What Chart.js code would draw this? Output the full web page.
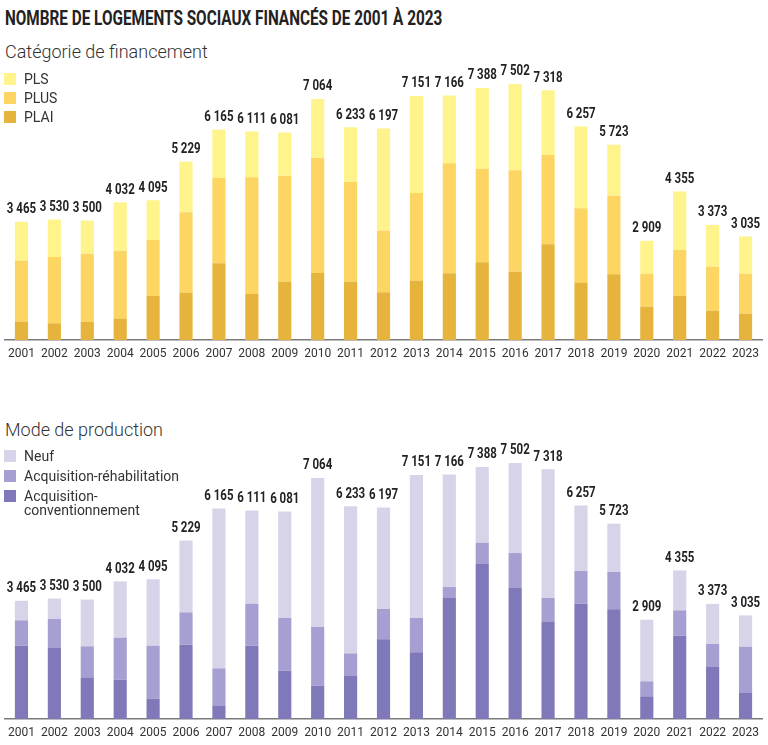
<!DOCTYPE html>
<html lang="fr">
<head>
<meta charset="utf-8">
<script src="https://cdn.jsdelivr.net/npm/chart.js@4.4.1/dist/chart.umd.min.js"></script>
<style>
  body { margin: 0; background: #fff; font-family: Roboto, sans-serif; color: #333; }
  #page { position: relative; width: 768px; height: 745px; overflow: hidden; }
  #title { position: absolute; left: 5px; top: 5px; font: bold 20px Roboto, sans-serif; color: #222;
           white-space: nowrap; transform-origin: 0 0; line-height: 26px; }
  .subtitle { position: absolute; left: 5px; font: 300 18px Roboto, sans-serif; color: #333; white-space: nowrap; line-height: 20px; }
  .legend { position: absolute; left: 4px; top: 0; width: 300px; font: 14px Roboto, sans-serif; color: #333; }
  .legend .sw { position: absolute; left: 0; width: 12px; height: 12px; }
  .legend .txt { position: absolute; left: 20px; line-height: 14px; white-space: nowrap; }
  canvas { position: absolute; left: 0; }
</style>
</head>
<body>
<div id="page">
  <div id="title">NOMBRE DE LOGEMENTS SOCIAUX FINANCÉS DE 2001 À 2023</div>
  <div class="subtitle" style="top:42px">Catégorie de financement</div>
  <canvas id="chart1" width="768" height="310" style="top:60px"></canvas>
  <div class="legend" id="legend1"></div>

  <div class="subtitle" style="top:420px">Mode de production</div>
  <canvas id="chart2" width="768" height="305" style="top:440px"></canvas>
  <div class="legend" id="legend2"></div>
</div>
<script>
const years = ['2001','2002','2003','2004','2005','2006','2007','2008','2009','2010','2011','2012',
               '2013','2014','2015','2016','2017','2018','2019','2020','2021','2022','2023'];
const totals = [3465, 3530, 3500, 4032, 4095, 5229, 6165, 6111, 6081, 7064, 6233, 6197,
                7151, 7166, 7388, 7502, 7318, 6257, 5723, 2909, 4355, 3373, 3035];

// Catégorie de financement
const plai = [540, 490, 537, 625, 1290, 1386, 2247, 1348, 1708, 1963, 1708, 1398,
              1738, 1953, 2275, 2002, 2803, 1680, 1924, 976, 1289, 859, 771];
const plus = [1784, 1942, 1993, 1992, 1640, 2355, 2499, 3419, 3107, 3380, 2931, 1805,
              2569, 3223, 2745, 2969, 2617, 2178, 2305, 967, 1348, 1289, 1172];
const pls  = [1141, 1098, 970, 1415, 1165, 1488, 1419, 1344, 1266, 1721, 1594, 2994,
              2844, 1990, 2368, 2531, 1898, 2399, 1494, 966, 1718, 1225, 1092];

// Mode de production
const acqConv = [2148, 2080, 1221, 1152, 596, 2178, 381, 2148, 1416, 977, 1260, 2334,
                 1953, 3545, 4541, 3838, 2842, 3379, 3213, 664, 2441, 1524, 762];
const acqRehab = [743, 850, 909, 1231, 1552, 947, 1103, 1231, 1543, 1719, 664, 889,
                  1006, 322, 625, 1025, 703, 957, 1094, 440, 743, 673, 1357];
const neuf = [574, 600, 1370, 1649, 1947, 2104, 4681, 2732, 3122, 4368, 4309, 2974,
              4192, 3299, 2222, 2639, 3773, 1921, 1416, 1805, 1171, 1176, 916];

const COL = {
  plai: '#E6B33C', plus: '#FCD562', pls: '#FFF38C',
  conv: '#7F79BA', rehab: '#A5A0D1', neuf: '#D7D4EA'
};

// fit the title to the width it has in the reference
const title = document.getElementById('title');
title.style.transform = 'scaleX(' + (437 / title.scrollWidth) + ')';

function fmt(n) {
  return String(n).replace(/\B(?=(\d{3})+(?!\d))/g, ' ');
}

function buildLegend(id, items) {
  const box = document.getElementById(id);
  items.forEach(it => {
    const sw = document.createElement('div');
    sw.className = 'sw';
    sw.style.background = it.color;
    sw.style.top = (it.y - 6) + 'px';
    box.appendChild(sw);
    const t = document.createElement('div');
    t.className = 'txt';
    t.style.top = (it.y - 7) + 'px';
    t.innerHTML = it.label;
    box.appendChild(t);
  });
}

buildLegend('legend1', [
  { label: 'PLS', color: COL.pls, y: 79 },
  { label: 'PLUS', color: COL.plus, y: 98 },
  { label: 'PLAI', color: COL.plai, y: 117 }
]);
buildLegend('legend2', [
  { label: 'Neuf', color: COL.neuf, y: 456 },
  { label: 'Acquisition-réhabilitation', color: COL.rehab, y: 476 },
  { label: 'Acquisition-<br>conventionnement', color: COL.conv, y: 496 }
]);

// total above each stacked bar
const totalLabels = {
  id: 'totalLabels',
  afterDatasetsDraw(chart) {
    const ctx = chart.ctx;
    const meta = chart.getDatasetMeta(chart.data.datasets.length - 1);
    ctx.save();
    ctx.font = 'bold 14px Roboto, sans-serif';
    ctx.fillStyle = '#222';
    ctx.textAlign = 'center';
    ctx.textBaseline = 'bottom';
    meta.data.forEach((bar, i) => {
      ctx.save();
      ctx.translate(bar.x, bar.y - 5);
      ctx.scale(0.82, 1);
      ctx.fillText(fmt(totals[i]), 0, 0);
      ctx.restore();
    });
    ctx.restore();
  }
};

function makeChart(id, datasets, axisHeight, padTop) {
  return new Chart(document.getElementById(id).getContext('2d'), {
    type: 'bar',
    data: {
      labels: years,
      datasets: datasets.map(d => ({
        label: d.label, data: d.data, backgroundColor: d.color,
        barPercentage: 0.4, categoryPercentage: 1, borderWidth: 0
      }))
    },
    options: {
      responsive: false,
      animation: false,
      devicePixelRatio: 1,
      layout: { padding: { left: 5, right: 6, top: padTop, bottom: 0 } },
      plugins: { legend: { display: false }, tooltip: { enabled: false } },
      scales: {
        x: {
          stacked: true,
          grid: { display: false, drawTicks: false },
          border: { display: true, color: '#7a7a7a', width: 1.5 },
          ticks: { color: '#333', font: { family: 'Roboto', size: 12 }, padding: 7,
                   maxRotation: 0, autoSkip: false },
          afterFit(scale) { scale.height = axisHeight; }
        },
        y: { stacked: true, display: false, min: 0, max: 8000 }
      }
    },
    plugins: [totalLabels]
  });
}

makeChart('chart1', [
  { label: 'PLAI', data: plai, color: COL.plai },
  { label: 'PLUS', data: plus, color: COL.plus },
  { label: 'PLS', data: pls, color: COL.pls }
], 30, 7);

makeChart('chart2', [
  { label: 'Acquisition-conventionnement', data: acqConv, color: COL.conv },
  { label: 'Acquisition-réhabilitation', data: acqRehab, color: COL.rehab },
  { label: 'Neuf', data: neuf, color: COL.neuf }
], 26, 6);
</script>
</body>
</html>
